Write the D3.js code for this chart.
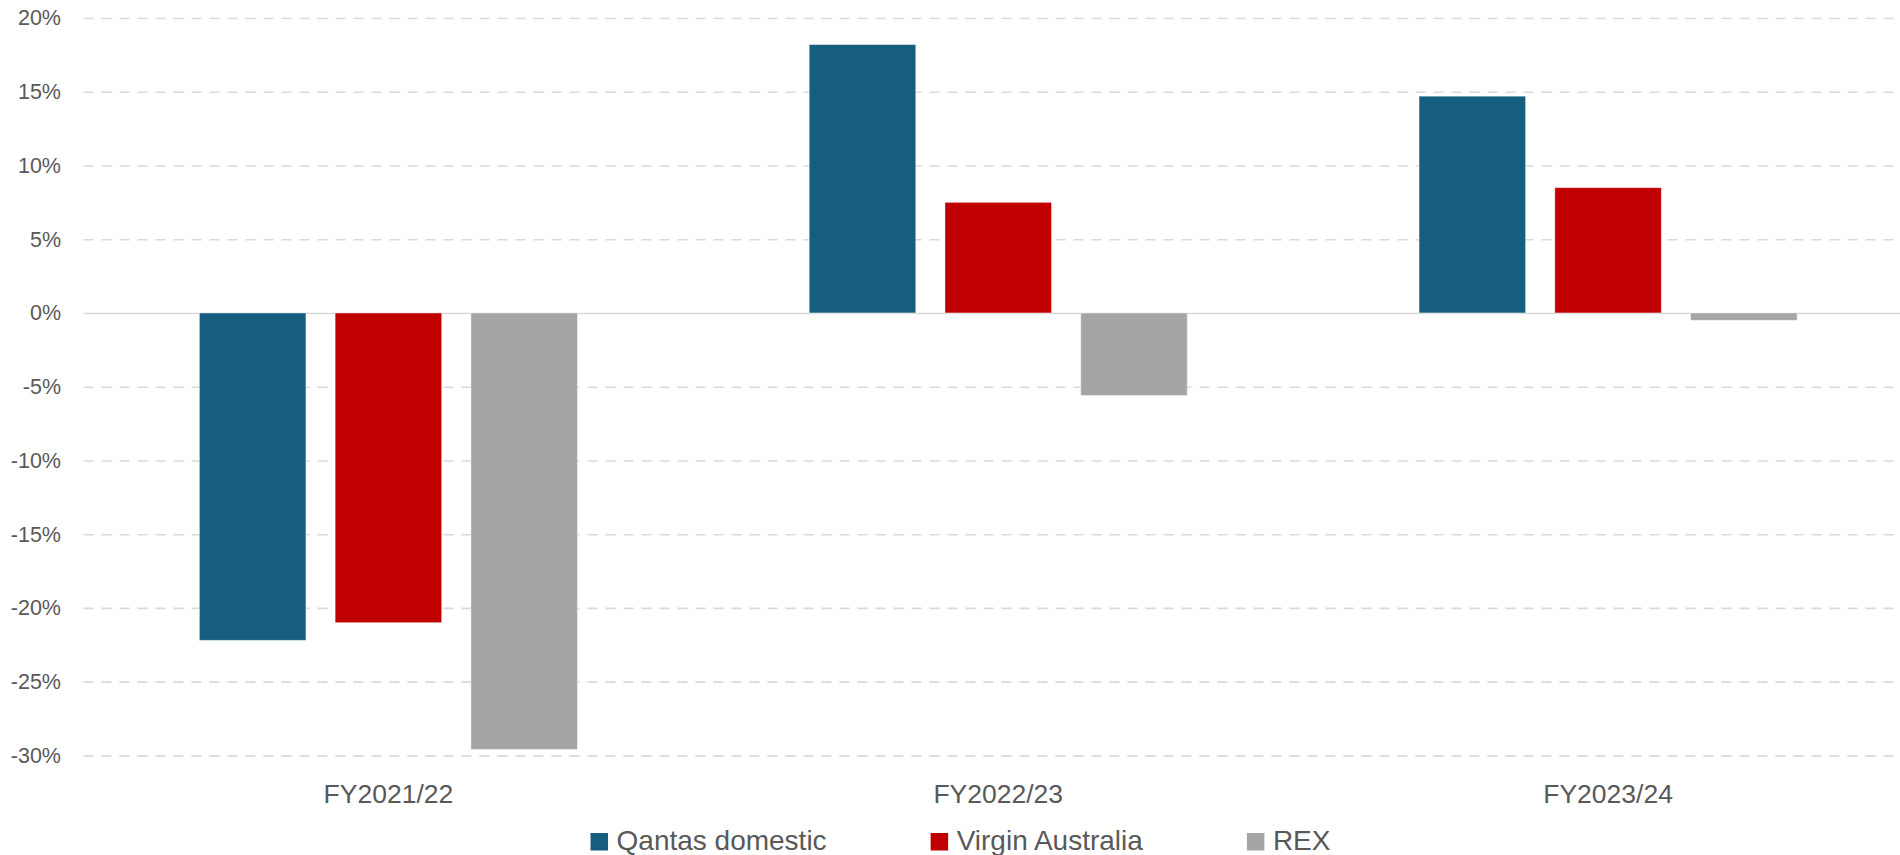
<!DOCTYPE html>
<html>
<head>
<meta charset="utf-8">
<script src="https://cdn.jsdelivr.net/npm/d3@7"></script>
<style>
  html, body { margin: 0; padding: 0; background: #fff; }
  svg { display: block; }
  text { font-family: "Liberation Sans", Arial, sans-serif; fill: #595959; }
</style>
</head>
<body>
<script>
// ---- data ----
const categories = ["FY2021/22", "FY2022/23", "FY2023/24"];
const seriesNames = ["Qantas domestic", "Virgin Australia", "REX"];
const qantasValues = [-22.2, 18.2, 14.7];
const virginValues = [-21.0, 7.5, 8.5];
const rexValues = [-29.6, -5.6, -0.5];
const yTicks = [20, 15, 10, 5, 0, -5, -10, -15, -20, -25, -30];
const colors = ["#165E80", "#C00000", "#A5A5A5"];

const seriesValues = [qantasValues, virginValues, rexValues];

const W = 1900, H = 855;
const svg = d3.select("body").append("svg").attr("width", W).attr("height", H);

const plotLeft = 83.5, plotRight = 1913, plotTop = 18, plotBottom = 755.4;

const x0 = d3.scaleBand().domain(categories).range([plotLeft, plotRight]).padding(0);
const bw = x0.bandwidth();
const x1 = d3.scaleBand().domain(seriesNames)
  .range([bw * 0.19, bw * 0.81]).paddingInner(0.215).paddingOuter(0);
const y = d3.scaleLinear().domain([-30, 20]).range([plotBottom, plotTop]);

// gridlines + y labels
const yAxis = d3.axisLeft(y).tickValues(yTicks).tickFormat(d => d + "%")
  .tickSizeInner(-(W - plotLeft)).tickSizeOuter(0).tickPadding(22.5);
const gy = svg.append("g").attr("transform", `translate(${plotLeft},0)`).call(yAxis);
gy.select(".domain").remove();
gy.selectAll(".tick line")
  .attr("stroke", "#d9d9d9")
  .attr("stroke-width", 1.6)
  .attr("stroke-dasharray", d => d === 0 ? null : "10,8");
gy.selectAll(".tick text")
  .style("font-size", "21.5px")
  .attr("fill", "#595959");

// bars
const groups = svg.append("g").selectAll("g").data(categories).join("g")
  .attr("transform", d => `translate(${x0(d)},0)`);
groups.selectAll("rect")
  .data((c, ci) => seriesNames.map((s, si) => ({ s, si, v: seriesValues[si][ci] })))
  .join("rect")
  .attr("x", d => x1(d.s))
  .attr("width", x1.bandwidth())
  .attr("y", d => y(Math.max(0, d.v)))
  .attr("height", d => Math.abs(y(d.v) - y(0)))
  .attr("fill", d => colors[d.si])
  .attr("stroke", "#ffffff")
  .attr("stroke-opacity", 0.45)
  .attr("stroke-width", 1);

// category labels
const xAxis = d3.axisBottom(x0).tickSize(0).tickPadding(0);
const gx = svg.append("g").call(xAxis);
gx.select(".domain").remove();
gx.selectAll(".tick text")
  .attr("y", 802.5).attr("dy", 0)
  .style("font-size", "26.5px")
  .attr("fill", "#595959");

// legend
const legend = svg.append("g");
const sq = 17.5, gapText = 8.5, gapItem = 104, legendBaseline = 850;
const items = legend.selectAll("g").data(seriesNames).join("g");
items.append("rect").attr("width", sq).attr("height", sq)
  .attr("y", legendBaseline - 17)
  .attr("fill", (d, i) => colors[i]);
items.append("text").attr("x", sq + gapText).attr("y", legendBaseline)
  .style("font-size", "28px").text(d => d);
let cx = 0;
const offs = [];
items.each(function () {
  const tw = d3.select(this).select("text").node().getComputedTextLength();
  offs.push(cx);
  cx += sq + gapText + tw + gapItem;
});
const totalW = cx - gapItem;
const lx = 960.5 - totalW / 2;
items.attr("transform", (d, i) => `translate(${lx + offs[i]},0)`);
</script>
</body>
</html>
